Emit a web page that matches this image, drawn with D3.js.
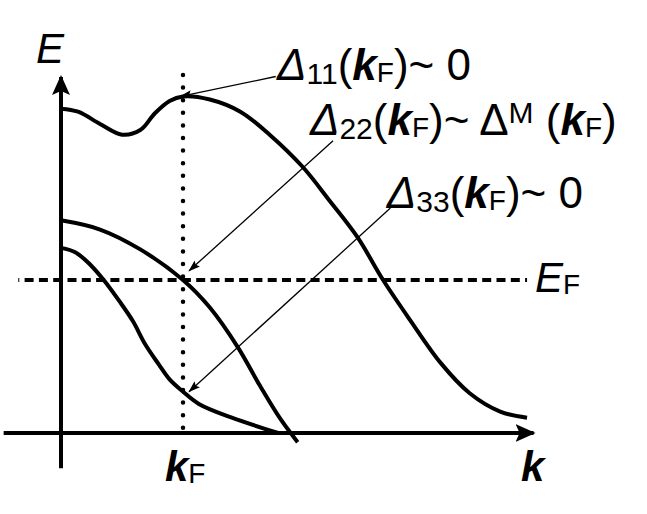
<!DOCTYPE html>
<html>
  <head>
    <meta charset="utf-8">
    <script src="https://d3js.org/d3.v7.min.js"></script>
    <style>
      body {margin:0; background:white;}
      text {font-family: "Liberation Sans", Arial, Helvetica, sans-serif; fill:#000;}
    </style>
  </head>
  <body>
    <div id="chart1"></div>
    <script>
      // band dispersions, k in units of kF, E in units of EF
      var band1 = [[0,2.12],[0.14,2.1],[0.32,2.02],[0.5,1.95],[0.65,1.98],[0.77,2.09],[0.89,2.17],[1,2.2],
                   [1.22,2.18],[1.47,2.1],[1.71,1.95],[1.98,1.74],[2.2,1.52],[2.43,1.28],[2.64,1.0],
                   [2.86,0.74],[3.11,0.46],[3.35,0.26],[3.6,0.14],[3.82,0.1]];
      var band2 = [[0,1.39],[0.32,1.33],[0.65,1.2],[1,1.0],[1.22,0.82],[1.45,0.56],[1.63,0.31],[1.8,0.09],[1.94,-0.06]];
      var band3 = [[0,1.21],[0.12,1.18],[0.24,1.1],[0.35,1.0],[0.48,0.86],[0.59,0.73],[0.69,0.58],[0.8,0.45],
                   [0.89,0.35],[1,0.27],[1.13,0.19],[1.4,0.1],[1.78,0]];
      var kF = 1, EF = 1;
      var kRange = [-0.47, 3.89];
      var ERange = [-0.23, 2.34];
      var efLine = [-0.35, 3.82];
      // annotation arrows: [from, to]
      var arrows = [
        [[1.76,2.33],[0.98,2.2]],
        [[2.23,1.91],[1.05,1.06]],
        [[2.7,1.47],[1.05,0.27]]
      ];
      var labels = [
        {x:1.77, y:2.31, parts:[["Δ","i"],["11","sub"],["("],["k","bi"],["F","subF"],[")~ 0"]]},
        {x:2.04, y:1.95, parts:[["Δ","i"],["22","sub"],["("],["k","bi"],["F","subF"],[")~ Δ"],["M","sup"],[" ("],["k","bi"],["F","subF"],[")"]]},
        {x:2.67, y:1.47, parts:[["Δ","i"],["33","sub"],["("],["k","bi"],["F","subF"],[")~ 0"]]}
      ];

      var W = 647, H = 514;
      var x = d3.scaleLinear().domain([0, 1]).range([61, 183]);
      var y = d3.scaleLinear().domain([0, 1]).range([433, 280]);

      var svg = d3.select("#chart1").append("svg")
        .attr("width", W).attr("height", H)
        .attr("style", "background-color: white;");

      var defs = svg.append("defs");
      defs.append("marker").attr("id", "bigArrow")
        .attr("markerUnits", "userSpaceOnUse")
        .attr("viewBox", "0 -10 20 20")
        .attr("refX", 18).attr("refY", 0)
        .attr("markerWidth", 20).attr("markerHeight", 20)
        .attr("orient", "auto")
        .append("path").attr("d", "M0,-9 L20,0 L0,9 L4,0 Z").attr("fill", "#000");
      defs.append("marker").attr("id", "smallArrow")
        .attr("markerUnits", "userSpaceOnUse")
        .attr("viewBox", "0 -5 12 10")
        .attr("refX", 11).attr("refY", 0)
        .attr("markerWidth", 12).attr("markerHeight", 10)
        .attr("orient", "auto")
        .append("path").attr("d", "M0,-4 L12,0 L0,4 L2,0 Z").attr("fill", "#000");

      // axes
      svg.append("line")
        .attr("x1", x(kRange[0])).attr("y1", y(0))
        .attr("x2", x(kRange[1]) - 2).attr("y2", y(0))
        .attr("stroke", "#000").attr("stroke-width", 4)
        .attr("marker-end", "url(#bigArrow)");
      svg.append("line")
        .attr("x1", x(0)).attr("y1", y(ERange[0]))
        .attr("x2", x(0)).attr("y2", y(ERange[1]) + 2)
        .attr("stroke", "#000").attr("stroke-width", 4)
        .attr("marker-end", "url(#bigArrow)");

      // Fermi level and kF
      svg.append("line")
        .attr("x1", x(efLine[0])).attr("y1", y(EF))
        .attr("x2", x(efLine[1])).attr("y2", y(EF))
        .attr("stroke", "#000").attr("stroke-width", 4)
        .attr("stroke-dasharray", "9 5.3").attr("stroke-dashoffset", 8);
      svg.append("line")
        .attr("x1", x(kF)).attr("y1", y(ERange[1]))
        .attr("x2", x(kF)).attr("y2", y(-0.03))
        .attr("stroke", "#000").attr("stroke-width", 4.5)
        .attr("stroke-linecap", "round")
        .attr("stroke-dasharray", "0 12.6");

      var line = d3.line()
        .x(function(d) { return x(d[0]); })
        .y(function(d) { return y(d[1]); })
        .curve(d3.curveCatmullRom.alpha(0.5));

      [band1, band2, band3].forEach(function(b) {
        svg.append("path")
          .datum(b)
          .attr("d", line)
          .attr("fill", "none")
          .attr("stroke", "#000")
          .attr("stroke-width", 4);
      });

      arrows.forEach(function(a) {
        svg.append("line")
          .attr("x1", x(a[0][0])).attr("y1", y(a[0][1]))
          .attr("x2", x(a[1][0])).attr("y2", y(a[1][1]))
          .attr("stroke", "#000").attr("stroke-width", 1.3)
          .attr("marker-end", "url(#smallArrow)");
      });

      function addParts(t, parts, big, small) {
        var shift = 0;
        parts.forEach(function(p) {
          var s = t.append("tspan").text(p[0]).attr("font-size", big);
          var kind = p[1], own = 0;
          if (kind === "i") s.attr("font-style", "italic");
          if (kind === "bi") s.attr("font-style", "italic").attr("font-weight", "bold");
          if (kind === "sub") { s.attr("font-size", small); own = 4; }
          if (kind === "subF") { s.attr("font-size", small - 2); own = 2; }
          if (kind === "sup") { s.attr("font-size", small); own = -12; }
          s.attr("dy", own - shift);
          shift = own;
        });
      }

      labels.forEach(function(l) {
        var t = svg.append("text").attr("x", x(l.x)).attr("y", y(l.y));
        addParts(t, l.parts, 44, 30);
      });

      // axis labels
      var eLab = svg.append("text").attr("x", 36).attr("y", 63);
      addParts(eLab, [["E","i"]], 42, 28);
      var efLab = svg.append("text").attr("x", x(efLine[1]) + 8).attr("y", y(EF) + 12);
      addParts(efLab, [["E","i"],["F","subF"]], 42, 30);
      var kfLab = svg.append("text").attr("x", x(kF) - 18).attr("y", 481);
      addParts(kfLab, [["k","bi"],["F","subF"]], 42, 30);
      var kLab = svg.append("text").attr("x", 521).attr("y", 481);
      addParts(kLab, [["k","bi"]], 42, 28);
    </script>
  </body>
</html>
